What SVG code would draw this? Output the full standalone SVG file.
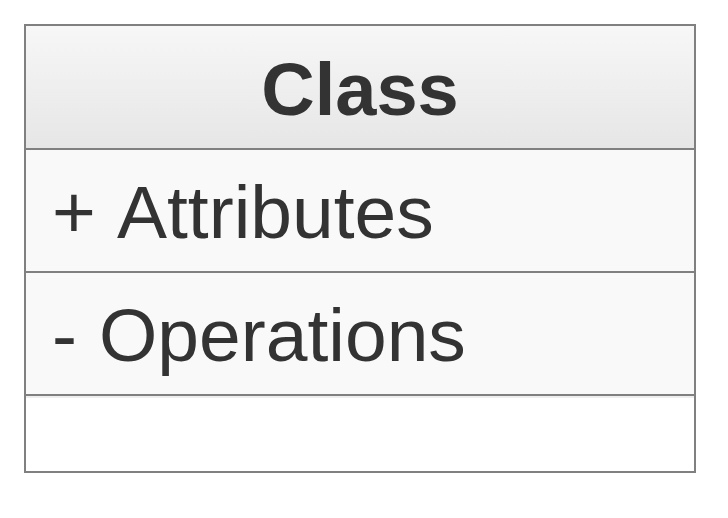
<svg xmlns="http://www.w3.org/2000/svg" width="728" height="518" viewBox="0 0 728 518">
<defs>
<linearGradient id="hdr" x1="0" y1="0" x2="0" y2="1">
<stop offset="0" stop-color="#f7f7f7"/>
<stop offset="1" stop-color="#e6e6e6"/>
</linearGradient>
<style>
.box{stroke:#808080;stroke-width:2;}
.sep{stroke:#808080;stroke-width:2;fill:none;}
.txt{font-family:"Liberation Sans",Arial,sans-serif;font-size:75px;fill:#333333;}
.title{font-size:74px;font-weight:bold;text-anchor:middle;}
</style>
</defs>
<rect width="728" height="518" fill="#ffffff"/>
<g id="class-node">
<rect x="25" y="25" width="670" height="124" fill="url(#hdr)"/>
<rect x="25" y="149" width="670" height="246" fill="#f9f9f9"/>
<rect x="25" y="395" width="670" height="77" fill="#ffffff"/>
<line x1="25" y1="397" x2="695" y2="397" stroke="#eeeeee" stroke-width="2"/>
<rect class="box" x="25" y="25" width="670" height="447" fill="none"/>
<line class="sep" x1="25" y1="149" x2="695" y2="149"/>
<line class="sep" x1="25" y1="272" x2="695" y2="272"/>
<line class="sep" x1="25" y1="395" x2="695" y2="395"/>
<text class="txt title" x="360" y="115">Class</text>
<text class="txt" y="238"><tspan x="52">+ </tspan><tspan x="117">Attributes</tspan></text>
<text class="txt" y="361"><tspan x="52">- </tspan><tspan x="99">Operations</tspan></text>
</g>
<g id="connectors"></g>
</svg>
